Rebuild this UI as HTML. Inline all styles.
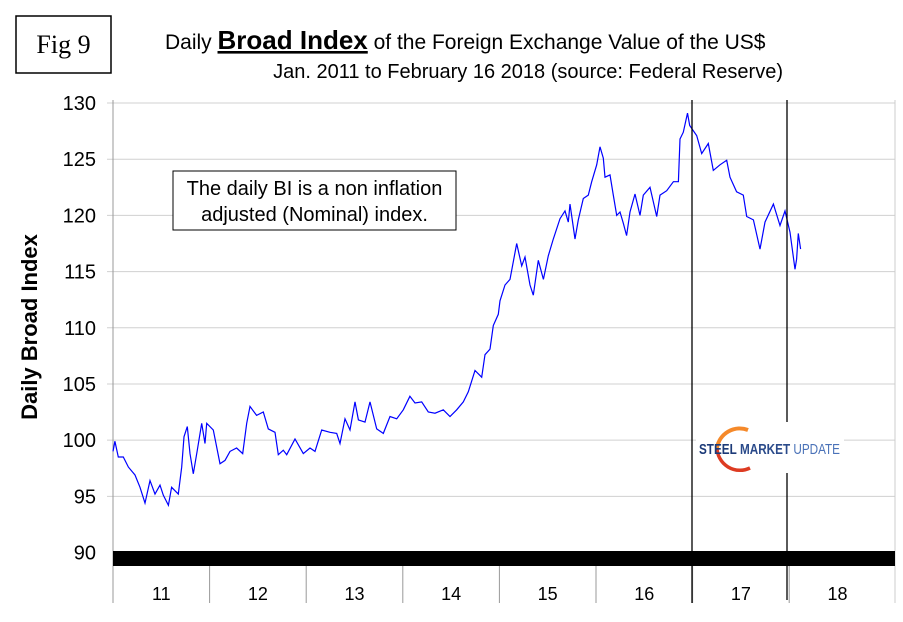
<!DOCTYPE html>
<html><head><meta charset="utf-8"><style>
body{margin:0;background:#fff;}
svg{display:block;font-family:"Liberation Sans",sans-serif;}
</style></head><body>
<svg width="903" height="622" viewBox="0 0 903 622">
<rect x="16" y="16" width="95" height="57" fill="#fff" stroke="#000" stroke-width="1.5"/>
<text x="63.5" y="53" font-family="Liberation Serif,serif" font-size="26" text-anchor="middle">Fig 9</text>
<text x="165" y="49" font-size="21">Daily <tspan font-weight="bold" font-size="26" text-decoration="underline">Broad Index</tspan> of the Foreign Exchange Value of the US$</text>
<text x="783" y="78" font-size="20" text-anchor="end">Jan. 2011 to February 16 2018 (source: Federal Reserve)</text>
<text transform="translate(37,327) rotate(-90)" font-size="22" font-weight="bold" text-anchor="middle">Daily Broad Index</text>
<g id="grid"></g>
<g id="yticks"></g>
<g id="xaxis"></g>
<polyline id="series" fill="none" stroke="#0000ff" stroke-width="1.2"/>
<rect x="173" y="171" width="283" height="59" fill="#fff" stroke="#000" stroke-width="1"/>
<text x="314.5" y="195" font-size="20" text-anchor="middle">The daily BI is a non inflation</text>
<text x="314.5" y="221" font-size="20" text-anchor="middle">adjusted (Nominal) index.</text>
<line x1="692" y1="100" x2="692" y2="603" stroke="#000" stroke-width="1.3"/>
<line x1="787" y1="100" x2="787" y2="422" stroke="#000" stroke-width="1.3"/>
<line x1="787" y1="473" x2="787" y2="600" stroke="#000" stroke-width="1.3"/>
<g>
<rect x="696" y="423" width="148" height="50" fill="#fff"/>
<path d="M748 430 A23 23 0 0 0 717 448" fill="none" stroke="#f5892a" stroke-width="4"/>
<path d="M717 448 A23 23 0 0 0 750 468" fill="none" stroke="#dd3b22" stroke-width="3.5"/>
<text x="699" y="454" font-size="15" fill="#1c3a78" textLength="141" lengthAdjust="spacingAndGlyphs"><tspan font-weight="bold">STEEL</tspan> <tspan font-weight="bold" fill="#2a4a8a">MARKET</tspan> <tspan fill="#4a72b8">UPDATE</tspan></text>
</g>
</svg>
<script>
const yTickValues=[90,95,100,105,110,115,120,125,130];
const yearLabels=["11","12","13","14","15","16","17","18"];
const times=[0,0.02,0.055,0.107,0.159,0.228,0.28,0.331,0.383,0.435,0.487,0.521,0.573,0.607,0.676,0.711,0.735,0.769,0.797,0.831,0.873,0.918,0.952,0.97,1.038,1.108,1.159,1.211,1.28,1.343,1.384,1.418,1.487,1.556,1.608,1.677,1.711,1.763,1.798,1.884,1.97,2.039,2.091,2.16,2.246,2.316,2.35,2.402,2.453,2.505,2.54,2.609,2.66,2.73,2.798,2.867,2.937,3.005,3.074,3.126,3.196,3.264,3.333,3.419,3.489,3.558,3.626,3.678,3.747,3.817,3.851,3.903,3.937,3.989,4.006,4.058,4.11,4.179,4.231,4.265,4.317,4.351,4.403,4.455,4.506,4.558,4.627,4.679,4.713,4.731,4.783,4.817,4.869,4.92,4.955,5.007,5.041,5.076,5.093,5.145,5.179,5.214,5.248,5.283,5.317,5.352,5.404,5.455,5.49,5.559,5.628,5.663,5.732,5.801,5.853,5.87,5.904,5.947,5.97,6.042,6.094,6.163,6.214,6.284,6.353,6.387,6.456,6.525,6.56,6.629,6.698,6.749,6.836,6.905,6.957,7.008,7.06,7.077,7.094,7.118];
const values=[99.0,99.9,98.5,98.5,97.6,96.9,95.8,94.4,96.4,95.2,96.0,95.1,94.2,95.8,95.2,97.6,100.3,101.2,98.8,97.0,99.1,101.5,99.7,101.5,100.9,97.9,98.2,99.0,99.3,98.8,101.5,103.0,102.2,102.5,101.0,100.7,98.7,99.1,98.7,100.1,98.8,99.3,99.0,100.9,100.7,100.6,99.7,101.9,100.9,103.4,101.8,101.6,103.4,101.0,100.6,102.1,101.9,102.7,103.9,103.3,103.4,102.5,102.4,102.7,102.1,102.7,103.4,104.3,106.2,105.6,107.6,108.1,110.2,111.2,112.4,113.8,114.3,117.5,115.5,116.3,113.8,112.9,116.0,114.3,116.4,117.9,119.7,120.4,119.4,121.0,117.9,119.6,121.5,121.8,123.0,124.5,126.1,125.1,123.4,123.6,121.8,120.0,120.3,119.3,118.2,120.3,121.9,120.0,121.8,122.5,119.9,121.8,122.2,123.0,123.0,126.8,127.4,129.1,128.0,127.1,125.5,126.4,124.0,124.5,124.9,123.4,122.1,121.8,119.9,119.6,117.0,119.4,121.0,119.1,120.4,118.5,115.2,116.1,118.4,117.0];
const NS="http://www.w3.org/2000/svg";
const X0=113,YW=96.6,XR=895,Y0=552.5,YT=103;
function xs(t){return X0+t*YW;}
function ys(v){return Y0-(v-90)*(Y0-YT)/40;}
function mk(tag,attrs,parent){const e=document.createElementNS(NS,tag);for(const k in attrs)e.setAttribute(k,attrs[k]);document.getElementById(parent).appendChild(e);return e;}
yTickValues.forEach(v=>{
 if(v>90){const g=mk("line",{x1:X0-6,x2:XR,y1:ys(v),y2:ys(v),stroke:"#d0d0d0","stroke-width":1},"grid");
 
 }
 const t=mk("text",{x:96,y:ys(v)+7,"font-size":20,"text-anchor":"end"},"yticks");
 t.textContent=v;
 
 
});
const ax=mk("line",{x1:X0,x2:X0,y1:YT-3,y2:603,stroke:"#999","stroke-width":1},"xaxis");


const ra=mk("line",{x1:XR,x2:XR,y1:YT-3,y2:603,stroke:"#ccc","stroke-width":1},"xaxis");


const band=mk("rect",{x:X0,y:551,width:XR-X0,height:15,fill:"#000"},"xaxis");


yearLabels.forEach((l,i)=>{
 const tk=mk("line",{x1:xs(i),x2:xs(i),y1:566,y2:603,stroke:"#999","stroke-width":1},"xaxis");
 
 
 const t=mk("text",{x:xs(i+0.5),y:600,"font-size":18,"text-anchor":"middle"},"xaxis");
 t.textContent=l;
 
 
});
document.getElementById("series").setAttribute("points",times.map((t,i)=>xs(t).toFixed(1)+","+ys(values[i]).toFixed(1)).join(" "));
</script>
</body></html>
